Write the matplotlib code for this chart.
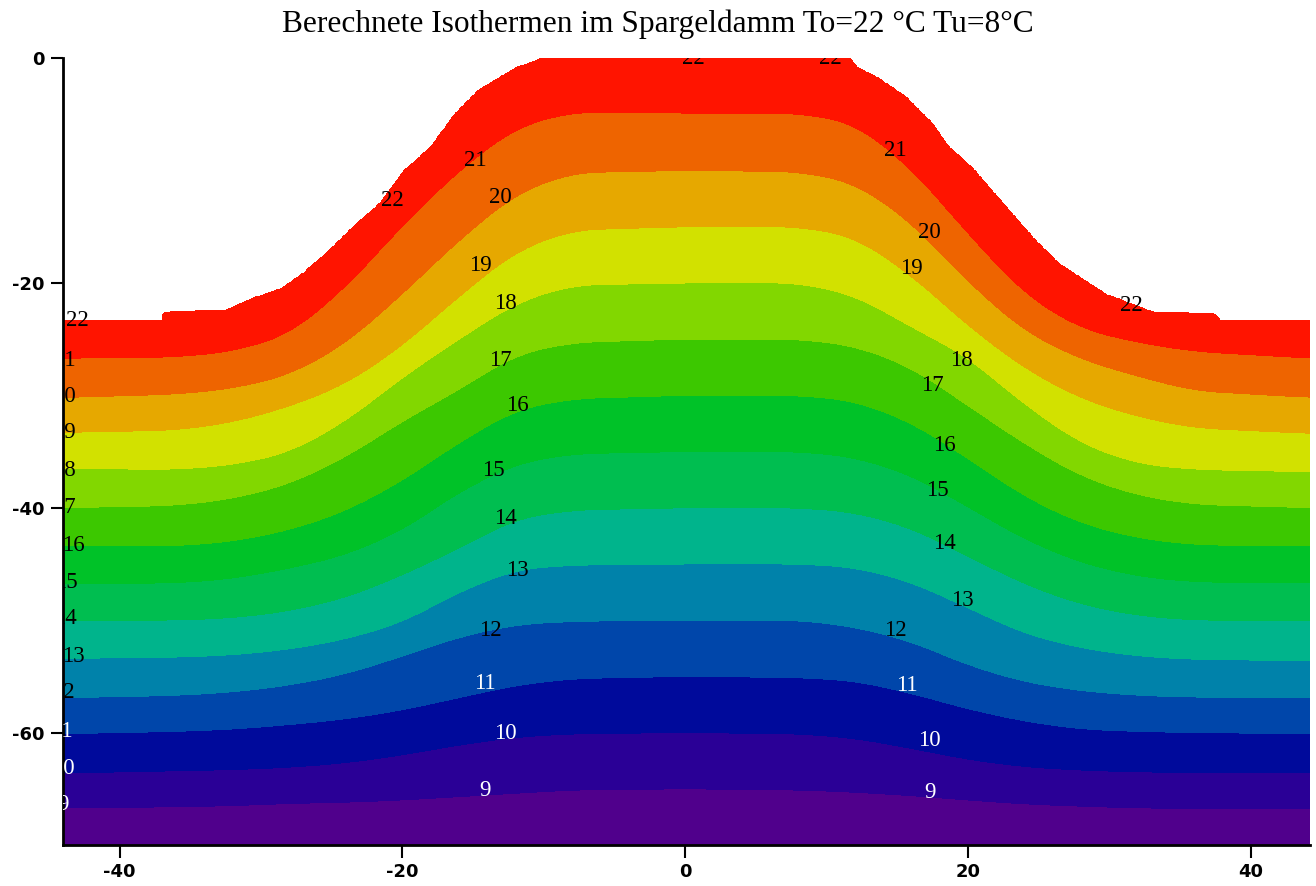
import numpy as np
import matplotlib.pyplot as plt

plt.rcParams['axes.unicode_minus'] = False

# ==============================
# 1. DATA
# ==============================
# ground surface of the dam, x [m] / depth [m]
surf_x = [-44, -37, -36.9, -32.5, -30.5, -28.6, -27.0, -25.2, -23.4, -21.6, -19.9, -18.0,
          -16.4, -14.6, -11.9, -10.1, 11.7, 12.2, 13.6, 15.6, 17.5, 18.7, 20.3, 22.3,
          24.8, 26.5, 29.8, 33.2, 37.4, 37.9, 44.3]
surf_y = [-23.3, -23.3, -22.6, -22.4, -21.3, -20.5, -19.1, -17.1, -14.9, -12.9, -10.0, -7.9,
          -5.1, -2.8, -0.8, 0.0, 0.0, -0.8, -1.7, -3.4, -5.8, -7.9, -9.7, -12.6,
          -16.2, -18.3, -21.0, -22.6, -22.7, -23.3, -23.3]

# depth of each isotherm at these columns
col_x = [-44, -36, -32, -28, -24, -20, -16, -12, -8, 0, 8, 12, 16, 20, 24, 28, 32, 36, 44.3]
iso_21 = [-26.7, -26.6, -26.1, -24.6, -20.4, -14.9, -10.0, -6.2, -4.8, -4.9, -4.9, -5.8, -9.8, -15.6, -21.0, -24.1, -25.3, -26.1, -26.7]
iso_20 = [-30.2, -29.9, -29.4, -28.2, -25.4, -21.0, -16.2, -12.1, -10.2, -10.0, -10.1, -11.1, -14.6, -19.9, -24.3, -26.8, -28.3, -29.6, -30.2]
iso_19 = [-33.3, -33.1, -32.4, -31.0, -29.0, -25.6, -21.2, -17.2, -15.3, -15.0, -15.0, -15.9, -19.3, -23.8, -27.6, -30.3, -31.9, -32.9, -33.4]
iso_18 = [-36.5, -36.6, -36.2, -35.1, -32.3, -28.4, -25.0, -21.8, -20.2, -20.0, -20.0, -21.1, -23.9, -26.6, -30.8, -34.3, -36.1, -36.6, -36.8]
iso_17 = [-40.0, -39.8, -39.2, -37.9, -35.5, -32.3, -29.5, -26.4, -25.3, -25.0, -25.0, -25.6, -27.5, -30.9, -34.3, -37.2, -38.9, -39.7, -40.0]
iso_16 = [-43.4, -43.4, -43.0, -42.0, -40.3, -37.6, -34.2, -31.3, -30.3, -30.0, -30.0, -30.5, -32.4, -35.6, -39.0, -41.4, -42.7, -43.3, -43.4]
iso_15 = [-46.7, -46.7, -46.3, -45.4, -44.2, -42.0, -38.6, -36.1, -35.2, -35.0, -35.0, -35.5, -37.1, -39.9, -42.8, -44.9, -46.1, -46.6, -46.7]
iso_14 = [-50.0, -50.0, -49.8, -49.2, -48.0, -46.0, -43.6, -41.0, -40.2, -40.0, -40.0, -40.4, -41.8, -44.3, -46.8, -48.6, -49.6, -50.0, -50.0]
iso_13 = [-53.4, -53.3, -53.1, -52.6, -51.7, -50.2, -47.5, -45.5, -45.1, -45.0, -45.0, -45.3, -46.6, -48.9, -51.2, -52.5, -53.2, -53.5, -53.6]
iso_12 = [-56.9, -56.7, -56.4, -55.8, -54.8, -53.2, -51.5, -50.4, -50.1, -50.0, -50.0, -50.6, -51.9, -54.0, -55.5, -56.3, -56.7, -56.85, -56.9]
iso_11 = [-60.1, -59.9, -59.7, -59.3, -58.8, -58.0, -56.9, -55.8, -55.2, -55.0, -55.1, -55.4, -56.5, -57.9, -59.0, -59.7, -59.9, -60.0, -60.1]
iso_10 = [-63.6, -63.4, -63.3, -63.1, -62.7, -62.0, -61.1, -60.4, -60.1, -60.0, -60.1, -60.5, -61.4, -62.4, -63.05, -63.35, -63.5, -63.55, -63.6]
iso_9 = [-66.7, -66.6, -66.5, -66.3, -66.2, -66.0, -65.7, -65.4, -65.1, -65.0, -65.1, -65.3, -65.6, -66.0, -66.35, -66.55, -66.7, -66.75, -66.8]

t_top = 22     # To
t_bottom = 8   # Tu
bottom_depth = -70

levels = list(range(t_bottom, t_top + 1))
band_colors = ['#50008C', '#2A0096', '#000A9B', '#0046AA', '#0082AA', '#00B48C', '#00BE50',
               '#00C228', '#3CC800', '#82D700', '#D2E100', '#E6A800', '#EE6400', '#FF1400']

# isotherm labels as they sit in the picture
lab_val = [22, 21, 20, 19, 18, 17, 16, 15, 14, 13, 12, 11, 10, 9,
           21, 20, 22, 19, 18, 17, 16, 15, 14, 13, 12, 11, 10, 9,
           22, 22, 21, 20, 19, 22, 18, 17, 16, 15, 14, 13, 12, 11, 10, 9]
lab_x = [-43.0, -43.9, -43.9, -43.9, -43.9, -43.9, -43.25, -43.75, -43.8, -43.3, -44.0, -44.05, -43.95, -44.0,
         -14.84, -13.07, -20.71, -14.49, -12.72, -13.07, -11.87, -13.57, -12.72, -11.87, -13.78, -14.13, -12.72, -14.13,
         0.57, 10.3, 14.84, 17.31, 16.04, 31.59, 19.58, 17.46, 18.37, 17.81, 18.37, 19.58, 14.84, 15.69, 17.31, 17.31]
lab_y = [-23.33, -26.89, -30.10, -33.30, -36.69, -39.98, -43.37, -46.66, -49.87, -53.25, -56.46, -59.93, -63.22, -66.43,
         -9.08, -12.38, -12.64, -18.43, -21.82, -26.89, -30.90, -36.69, -40.96, -45.59, -50.94, -55.66, -60.11, -65.19,
         0.0, 0.0, -8.19, -15.49, -18.70, -21.99, -26.89, -29.12, -34.46, -38.47, -43.19, -48.26, -50.94, -55.83, -60.73, -65.36]

# ==============================
# 2. BUILD TEMPERATURE FIELD
# ==============================
xx = np.linspace(-44, 44.3, 1200)
yy = np.linspace(bottom_depth, 0, 900)

surf = np.interp(xx, surf_x, surf_y)
iso_rows = [iso_9, iso_10, iso_11, iso_12, iso_13, iso_14, iso_15, iso_16,
            iso_17, iso_18, iso_19, iso_20, iso_21]

n_k = 55
kern = np.ones(n_k) / n_k
D = [np.full_like(xx, bottom_depth, dtype=float)]
for r in iso_rows:
    line = np.interp(xx, col_x, r)
    line = np.convolve(np.pad(line, n_k // 2, mode='edge'), kern, mode='valid')  # smooth kinks
    D.append(line)
D.append(surf)
D = np.array(D)
for k in range(len(D) - 2, 0, -1):
    D[k] = np.minimum(D[k], D[k + 1] - 0.05)

T = np.full((len(yy), len(xx)), np.nan)
for j in range(len(xx)):
    col = np.interp(yy, D[:, j], levels)
    col[yy > surf[j] + 1e-9] = np.nan
    T[:, j] = col
T = np.ma.masked_invalid(T)

# ==============================
# 3. PLOT
# ==============================
fig = plt.figure(figsize=(13.16, 8.86), dpi=100)
ax = fig.add_axes([63 / 1316, 1 - 845 / 886, (1310 - 63) / 1316, (845 - 58) / 886])

ax.contourf(xx, yy, T, levels=levels, colors=band_colors)

for v, lx, ly in zip(lab_val, lab_x, lab_y):
    ax.text(lx, ly, str(v), ha='center', va='center', fontsize=16.5,
            family='Liberation Serif', color='white' if v <= 11 else 'black',
            clip_on=True)

ax.set_xlim(-44, 44.2)
ax.set_ylim(bottom_depth, 0)
ax.set_xticks([-40, -20, 0, 20, 40])
ax.set_yticks([0, -20, -40, -60])
for s in ['top', 'right']:
    ax.spines[s].set_visible(False)
for s in ['left', 'bottom']:
    ax.spines[s].set_linewidth(2)
ax.tick_params(direction='out', length=9, width=1.5, labelsize=13, pad=4)
for lbl in ax.get_xticklabels() + ax.get_yticklabels():
    lbl.set_fontweight('bold')

fig.text(0.5, 1 - 24 / 886, 'Berechnete Isothermen im Spargeldamm To=22 °C Tu=8°C',
         ha='center', va='center', fontsize=22.6, family='Liberation Serif')

fig.savefig('out.png', dpi=100)
